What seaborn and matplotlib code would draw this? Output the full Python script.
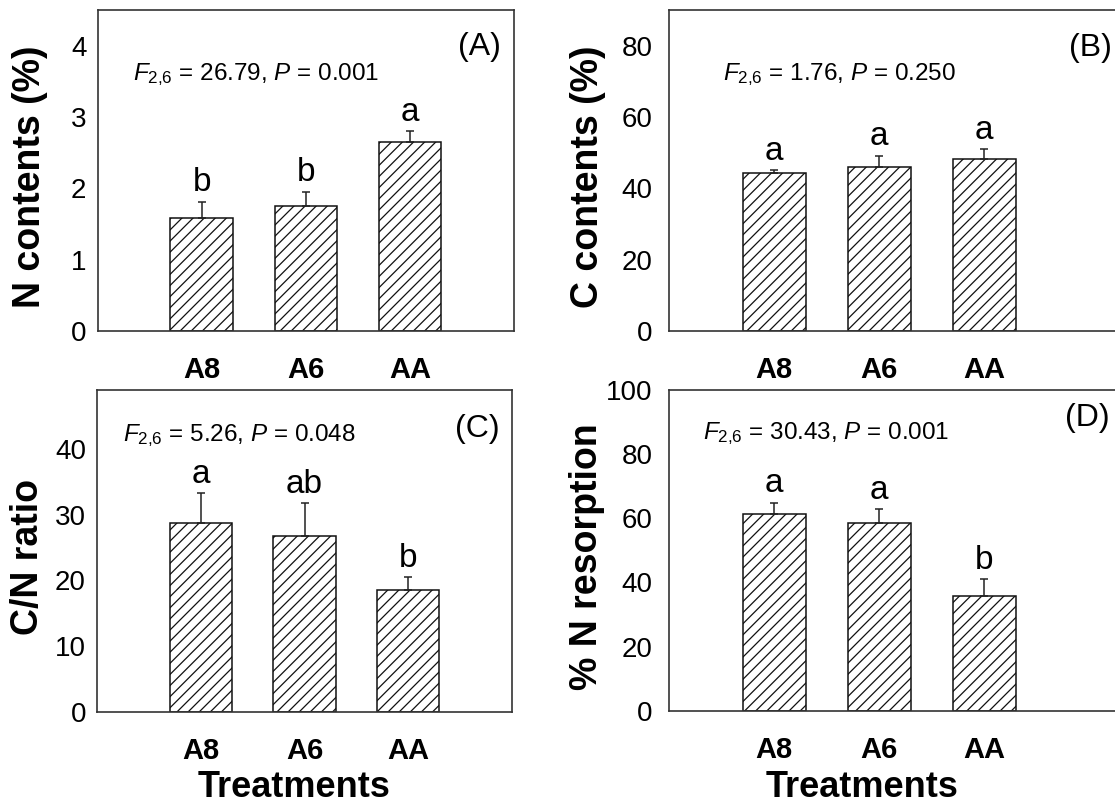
import matplotlib
matplotlib.use("Agg")
import matplotlib.pyplot as plt
import seaborn as sns
import numpy as np
import pandas as pd

treatments = ["A8", "A6", "AA"]

n_mean = [1.58, 1.75, 2.65]
n_se = [0.23, 0.20, 0.15]
n_letters = ["b", "b", "a"]

c_mean = [44.4, 46.0, 48.2]
c_se = [0.7, 3.2, 2.7]
c_letters = ["a", "a", "a"]

cn_mean = [28.8, 26.8, 18.5]
cn_se = [4.5, 5.0, 2.0]
cn_letters = ["a", "ab", "b"]

res_mean = [61.3, 58.6, 35.8]
res_se = [3.5, 4.3, 5.2]
res_letters = ["a", "a", "b"]

sns.set_style("white")
plt.rcParams["font.family"] = ["Liberation Sans", "DejaVu Sans"]
plt.rcParams["mathtext.fontset"] = "custom"
plt.rcParams["mathtext.rm"] = "Liberation Sans"
plt.rcParams["mathtext.it"] = "Liberation Sans:italic"
plt.rcParams["hatch.linewidth"] = 0.9
plt.rcParams["text.color"] = "black"
plt.rcParams["axes.labelcolor"] = "black"
plt.rcParams["xtick.color"] = "black"
plt.rcParams["ytick.color"] = "black"

fig = plt.figure(figsize=(11.15, 8.05), dpi=100)
W, H = 1115, 805


def px_axes(x0, y0, x1, y1):
    return fig.add_axes([x0 / W, 1 - y1 / H, (x1 - x0) / W, (y1 - y0) / H])


def panel(ax, mean, se, letters, ylim, yticks, xlim, ylabel, ylab_x, stat, stat_xy,
          tag, tag_xy, xlabel=None, xlab_xy=None, ypad=8):
    df = pd.DataFrame({"Treatment": treatments, "value": mean})
    sns.barplot(data=df, x="Treatment", y="value", order=treatments, ax=ax,
                color="white", edgecolor="#111111", linewidth=1.1, hatch="///",
                width=0.6, errorbar=None, saturation=1)
    x = np.arange(len(treatments))
    # only the upper half of the error bar is shown
    ax.errorbar(x, mean, yerr=[np.zeros(len(se)), se], fmt="none",
                ecolor="#222222", elinewidth=1.1, capsize=3, capthick=1.1, zorder=3)
    for xi, m, s, lab in zip(x, mean, se, letters):
        ax.annotate(lab, (xi, m + s), xytext=(0, 7.5), textcoords="offset points",
                    ha="center", va="baseline", fontsize=24)
    ax.set_xlim(*xlim)
    ax.set_ylim(*ylim)
    ax.set_yticks(yticks)
    ax.set_xticks(x)
    ax.set_xticklabels(treatments, fontweight="bold", fontsize=21)
    ax.tick_params(axis="y", direction="in", length=5, width=1, color="#333333",
                   labelsize=20, pad=ypad)
    ax.tick_params(axis="x", direction="in", length=4, width=1, color="#333333",
                   pad=18)
    for sp in ax.spines.values():
        sp.set_color("#333333")
        sp.set_linewidth(1.2)
        sp.set_visible(True)
    ax.set_ylabel(ylabel, fontsize=27, fontweight="bold", va="center", ha="center")
    ax.yaxis.set_label_coords(ylab_x, 0.48)
    if xlabel:
        ax.set_xlabel(xlabel, fontsize=26, fontweight="bold", va="center", ha="center")
        ax.xaxis.set_label_coords(*xlab_xy)
    else:
        ax.set_xlabel("")
    ax.text(stat_xy[0], stat_xy[1], stat, transform=ax.transAxes, fontsize=17.5,
            ha="left", va="baseline")
    ax.text(tag_xy[0], tag_xy[1], tag, transform=ax.transAxes, fontsize=23,
            ha="right", va="center")


ax_a = px_axes(97.5, 10, 514, 331)
ax_b = px_axes(669, 10, 1126, 331)
ax_c = px_axes(97, 390, 512, 711.7)
ax_d = px_axes(669, 390, 1126, 710.7)

panel(ax_a, n_mean, n_se, n_letters, (0, 4.5), [0, 1, 2, 3, 4], (-1, 3),
      "N contents (%)", -0.162, r"$F_{\mathrm{2{,}6}}$ = 26.79, $P$ = 0.001", (0.085, 0.782),
      "(A)", (0.968, 0.885))
panel(ax_b, c_mean, c_se, c_letters, (0, 90), [0, 20, 40, 60, 80], (-1, 3.35),
      "C contents (%)", -0.177, r"$F_{\mathrm{2{,}6}}$ = 1.76, $P$ = 0.250", (0.118, 0.782),
      "(B)", (0.969, 0.882), ypad=12)
panel(ax_c, cn_mean, cn_se, cn_letters, (0, 49), [0, 10, 20, 30, 40], (-1, 3),
      "C/N ratio", -0.167, r"$F_{\mathrm{2{,}6}}$ = 5.26, $P$ = 0.048", (0.063, 0.841),
      "(C)", (0.971, 0.879), xlabel="Treatments", xlab_xy=(0.476, -0.237))
panel(ax_d, res_mean, res_se, res_letters, (0, 100), [0, 20, 40, 60, 80, 100], (-1, 3.35),
      "% N resorption", -0.179, r"$F_{\mathrm{2{,}6}}$ = 30.43, $P$ = 0.001", (0.074, 0.846),
      "(D)", (0.965, 0.913), xlabel="Treatments", xlab_xy=(0.423, -0.241), ypad=12)

fig.savefig("out.png", dpi=100)
